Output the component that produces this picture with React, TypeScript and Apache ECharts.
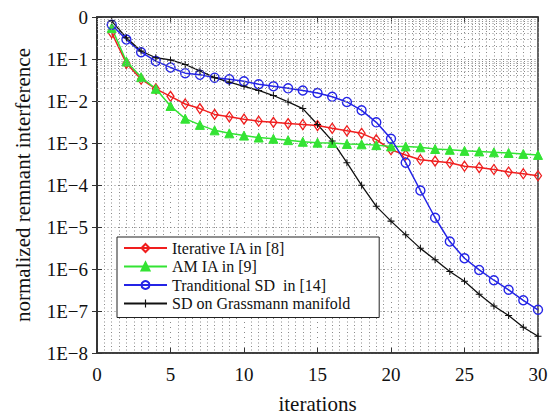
import React, { useEffect, useRef } from "react";
import * as echarts from "echarts";

const iterations = Array.from({ length: 30 }, (_, i) => i + 1);

const iterativeIA = [
  0.42, 0.079, 0.033, 0.0195, 0.0129, 0.0085, 0.0066, 0.0048, 0.0042, 0.0037,
  0.0033, 0.0031, 0.0029, 0.00275, 0.0026, 0.00224, 0.00195, 0.0017, 0.0012, 0.00069,
  0.00052, 0.0004, 0.00037, 0.00034, 0.00028, 0.00026, 0.000234, 0.000204, 0.000186, 0.000166,
];
const amIA = [
  0.55, 0.087, 0.037, 0.0195, 0.0076, 0.0038, 0.0027, 0.002, 0.0017, 0.0015,
  0.00135, 0.00126, 0.00117, 0.00107, 0.00102, 0.001, 0.00095, 0.00093, 0.00089, 0.00083,
  0.00083, 0.00079, 0.00072, 0.00069, 0.00065, 0.00063, 0.0006, 0.00058, 0.00055, 0.00052,
];
const traditionalSD = [
  0.65, 0.29, 0.145, 0.089, 0.063, 0.046, 0.042, 0.036, 0.033, 0.0295,
  0.025, 0.0224, 0.02, 0.0178, 0.0155, 0.0126, 0.0095, 0.006, 0.0031, 0.00126,
  0.00034, 7.4e-5, 1.66e-5, 4.5e-6, 1.8e-6, 9.5e-7, 5.4e-7, 3.2e-7, 1.8e-7, 1.07e-7,
];
const grassmannSD = [
  0.8, 0.32, 0.155, 0.107, 0.095, 0.074, 0.052, 0.036, 0.028, 0.0224,
  0.0178, 0.0135, 0.0095, 0.0066, 0.00275, 0.00112, 0.00034, 9.8e-5, 3.1e-5, 1.38e-5,
  6.5e-6, 3.1e-6, 1.66e-6, 8.7e-7, 5.1e-7, 2.5e-7, 1.32e-7, 7.8e-8, 4.1e-8, 2.5e-8,
];

const seriesNames = [
  "Iterative IA in [8]",
  "AM IA in [9]",
  "Tranditional SD  in [14]",
  "SD on Grassmann manifold",
];

const decades = [-8, -7, -6, -5, -4, -3, -2, -1];
const minorMultipliers = [2, 3, 4, 5, 6, 7, 8, 9];

const FONT = "'Liberation Serif', 'Times New Roman', serif";

function pair(values: number[]) {
  return iterations.map((x, i) => [x, values[i]]);
}

export default function App() {
  const ref = useRef<HTMLDivElement>(null);
  useEffect(() => {
    if (!ref.current) return;
    const chart = echarts.init(ref.current, undefined, { renderer: "svg" });

    const minorLines: any[] = [];
    decades.forEach((d) =>
      minorMultipliers.forEach((m) => minorLines.push({ yAxis: m * Math.pow(10, d) }))
    );

    const gridDot = { color: "#8a8a8a", width: 1, type: [1, 2.5] as any };

    const yFormatter = (v: number) => {
      const e = Math.round(Math.log10(v));
      return e === 0 ? "0" : "1E\u2212" + -e;
    };

    chart.setOption({
      animation: false,
      backgroundColor: "#fff",
      textStyle: { fontFamily: FONT },
      grid: {
        left: 97,
        right: 22,
        top: 17,
        bottom: 61,
        show: true,
        borderColor: "#333",
        borderWidth: 1.5,
        backgroundColor: "transparent",
      },
      legend: {
        orient: "vertical",
        left: 117,
        top: 237,
        padding: [2, 29, 5, 6],
        backgroundColor: "#fff",
        borderColor: "#222",
        borderWidth: 1,
        itemWidth: 43,
        itemHeight: 10,
        itemGap: 0.5,
        textStyle: { fontFamily: FONT, fontSize: 16, color: "#111", lineHeight: 18 },
        data: seriesNames,
      },
      xAxis: [
        {
          type: "value",
          min: 0,
          max: 30,
          interval: 5,
          name: "iterations",
          nameLocation: "middle",
          nameGap: 40,
          nameTextStyle: { fontFamily: FONT, fontSize: 21, color: "#111" },
          axisLine: { show: true, lineStyle: { color: "#333", width: 1.5 } },
          axisTick: { show: true, inside: true, length: 5, lineStyle: { color: "#333" } },
          axisLabel: { fontFamily: FONT, fontSize: 19, color: "#111", margin: 12 },
          splitLine: { show: true, lineStyle: { color: "#888", width: 1, type: [1, 4] } },
          minorTick: { show: false, splitNumber: 10 },
          minorSplitLine: { show: true, lineStyle: gridDot },
        },
        {
          type: "value",
          position: "top",
          min: 0,
          max: 30,
          interval: 5,
          axisLine: { show: true, lineStyle: { color: "#333", width: 1.5 } },
          axisTick: { show: true, inside: true, length: 5, lineStyle: { color: "#333" } },
          axisLabel: { show: false },
          splitLine: { show: false },
        },
      ],
      yAxis: [
        {
          type: "log",
          logBase: 10,
          min: 1e-8,
          max: 1,
          splitNumber: 8,
          name: "normalized remnant interference",
          nameLocation: "middle",
          nameGap: 64,
          nameTextStyle: { fontFamily: FONT, fontSize: 21, color: "#111" },
          axisLine: { show: true, lineStyle: { color: "#333", width: 1.5 } },
          axisTick: { show: true, inside: true, length: 5, lineStyle: { color: "#333" } },
          axisLabel: {
            fontFamily: FONT,
            fontSize: 19,
            color: "#111",
            margin: 9,
            formatter: yFormatter,
          },
          splitLine: { show: true, lineStyle: gridDot },
        },
        {
          type: "log",
          logBase: 10,
          min: 1e-8,
          max: 1,
          splitNumber: 8,
          position: "right",
          axisLine: { show: true, lineStyle: { color: "#333", width: 1.5 } },
          axisTick: { show: true, inside: true, length: 5, lineStyle: { color: "#333" } },
          axisLabel: { show: false },
          splitLine: { show: false },
        },
      ],
      series: [
        {
          type: "line",
          name: "_grid",
          data: [],
          z: 1,
          silent: true,
          markLine: {
            silent: true,
            symbol: ["none", "none"],
            label: { show: false },
            lineStyle: gridDot,
            data: minorLines,
          },
        },
        {
          type: "line",
          name: seriesNames[0],
          data: pair(iterativeIA),
          color: "#f01e1e",
          symbol: "diamond",
          symbolSize: [7, 10],
          lineStyle: { color: "#f01e1e", width: 1.5 },
          itemStyle: { color: "rgba(0,0,0,0)", borderColor: "#f01e1e", borderWidth: 1.3 },
          z: 3,
        },
        {
          type: "line",
          name: seriesNames[1],
          data: pair(amIA),
          color: "#33e333",
          symbol: "triangle",
          symbolSize: 9,
          lineStyle: { color: "#33e333", width: 1.5 },
          itemStyle: { color: "#33e333", borderColor: "#33e333", borderWidth: 1 },
          z: 3,
        },
        {
          type: "line",
          name: seriesNames[2],
          data: pair(traditionalSD),
          color: "#2424e6",
          symbol: "circle",
          symbolSize: 9,
          lineStyle: { color: "#2424e6", width: 1.5 },
          itemStyle: { color: "rgba(0,0,0,0)", borderColor: "#2424e6", borderWidth: 1.4 },
          z: 3,
        },
        {
          type: "line",
          name: seriesNames[3],
          data: pair(grassmannSD),
          color: "#111",
          symbol: "path://M3,0h1v3h3v1h-3v3h-1v-3h-3v-1h3z",
          symbolSize: 7,
          lineStyle: { color: "#111", width: 1.3 },
          itemStyle: { color: "#111" },
          z: 3,
        },
      ],
    });
    return () => chart.dispose();
  }, []);
  return (
    <div
      ref={ref}
      style={{ position: "fixed", left: 0, top: 0, width: 560, height: 419 }}
    />
  );
}
